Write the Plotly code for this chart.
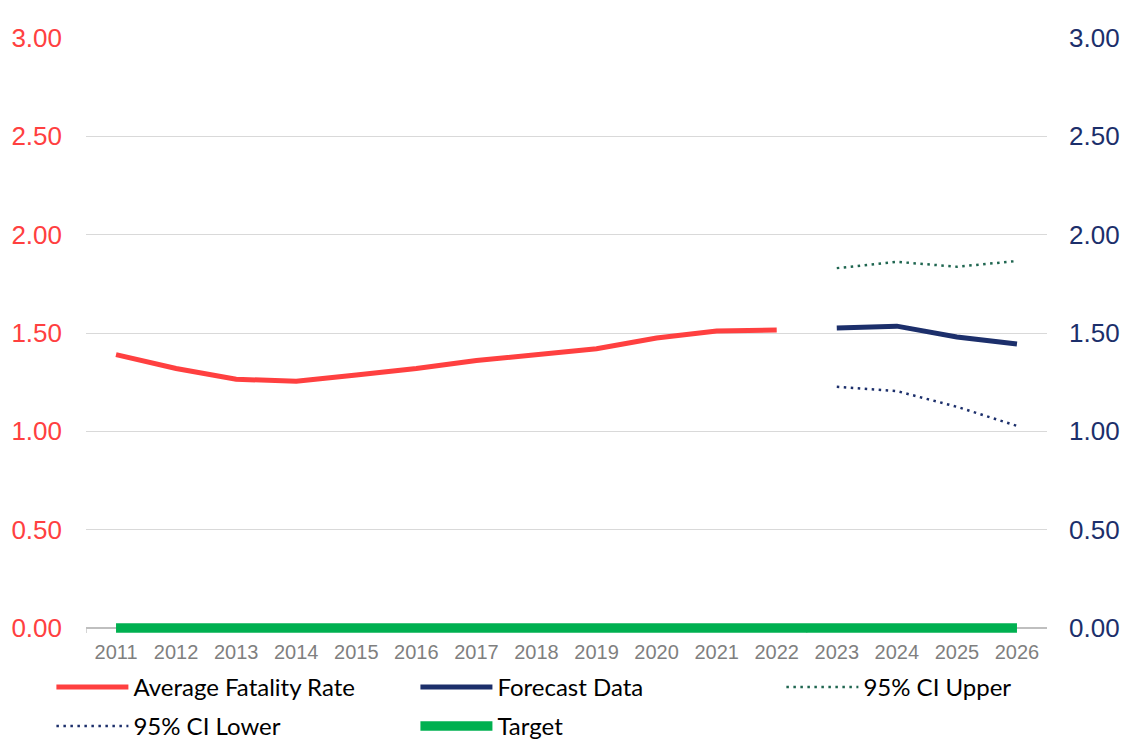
import plotly.graph_objects as go

years = [str(y) for y in range(2011, 2027)]
avg_rate = [1.39, 1.32, 1.265, 1.255, 1.287, 1.32, 1.36, 1.39, 1.42, 1.475, 1.51, 1.515,
            None, None, None, None]
forecast = [None] * 12 + [1.525, 1.535, 1.48, 1.444]
ci_upper = [None] * 12 + [1.83, 1.862, 1.837, 1.866]
ci_lower = [None] * 12 + [1.227, 1.205, 1.125, 1.028]
target = [0.0] * 16

y_ticks = [0, 0.5, 1.0, 1.5, 2.0, 2.5, 3.0]
y_tick_text = ["0.00", "0.50", "1.00", "1.50", "2.00", "2.50", "3.00"]

RED = "#ff4040"
NAVY = "#1c2f6b"
GREEN = "#00b050"
DKGREEN = "#1f6650"

fig = go.Figure()
fig.add_trace(go.Scatter(x=years, y=avg_rate, name="Average Fatality Rate", mode="lines",
                         line=dict(color=RED, width=5), legend="legend"))
fig.add_trace(go.Scatter(x=years, y=forecast, name="Forecast Data", mode="lines",
                         line=dict(color=NAVY, width=5), legend="legend2"))
fig.add_trace(go.Scatter(x=years, y=ci_upper, name="95% CI Upper", mode="lines",
                         line=dict(color=DKGREEN, width=2.5, dash="2.5px,4.5px"), legend="legend3"))
fig.add_trace(go.Scatter(x=years, y=ci_lower, name="95% CI Lower", mode="lines",
                         line=dict(color=NAVY, width=2.5, dash="2.5px,4.5px"), legend="legend4"))
fig.add_trace(go.Scatter(x=years, y=target, name="Target", mode="lines",
                         line=dict(color=GREEN, width=9.5), legend="legend5"))
# invisible trace to activate right axis
fig.add_trace(go.Scatter(x=years, y=target, yaxis="y2", mode="lines", showlegend=False,
                         hoverinfo="skip", line=dict(color="rgba(0,0,0,0)", width=0)))

legend_font = dict(family="Lato, Carlito, Calibri, sans-serif", size=24, color="#000000")


def leg(x, y):
    return dict(orientation="h", x=x, xanchor="left", y=y, yanchor="top",
                font=legend_font, itemwidth=72, bgcolor="rgba(0,0,0,0)")


row1, row2 = -0.0537, -0.1193
col1, col2, col3 = -0.036, 0.3428, 0.7236

Y_MIN, Y_MAX = -0.025, 3.0

fig.update_layout(
    width=1122, height=732,
    margin=dict(l=78, r=83, t=30, b=107, autoexpand=False),
    paper_bgcolor="white", plot_bgcolor="white",
    font=dict(family="Liberation Sans, Arial, sans-serif"),
    xaxis=dict(type="category", categoryorder="array", categoryarray=years,
               showgrid=False, showline=False,
               ticks="", tickfont=dict(size=20, color="#7f7f7f"), ticklabelstandoff=5,
               range=[-0.5, 15.5], fixedrange=True),
    yaxis=dict(range=[Y_MIN, Y_MAX], tickvals=y_ticks, ticktext=y_tick_text,
               showgrid=True, gridcolor="#d9d9d9", gridwidth=1.3,
               zeroline=True, zerolinecolor="#bfbfbf", zerolinewidth=1.5,
               tickfont=dict(size=26, color=RED), ticklabelstandoff=23),
    yaxis2=dict(range=[Y_MIN, Y_MAX], tickvals=y_ticks, ticktext=y_tick_text,
                overlaying="y", side="right", showgrid=False, zeroline=False,
                tickfont=dict(size=26, color=NAVY), ticklabelstandoff=21),
    showlegend=True,
    legend=leg(col1, row1),
    legend2=leg(col2, row1),
    legend3=leg(col3, row1),
    legend4=leg(col1, row2),
    legend5=leg(col2, row2),
    shapes=[
        dict(type="line", xref="x", yref="y", x0=-0.5, x1=-0.5, y0=0, y1=Y_MIN,
             line=dict(color="#bfbfbf", width=1.3), layer="below"),
        dict(type="line", xref="x", yref="y", x0=11.5, x1=11.5, y0=0, y1=Y_MIN,
             line=dict(color="#bfbfbf", width=1.3), layer="below"),
    ],
)

fig.write_html("out.html")
